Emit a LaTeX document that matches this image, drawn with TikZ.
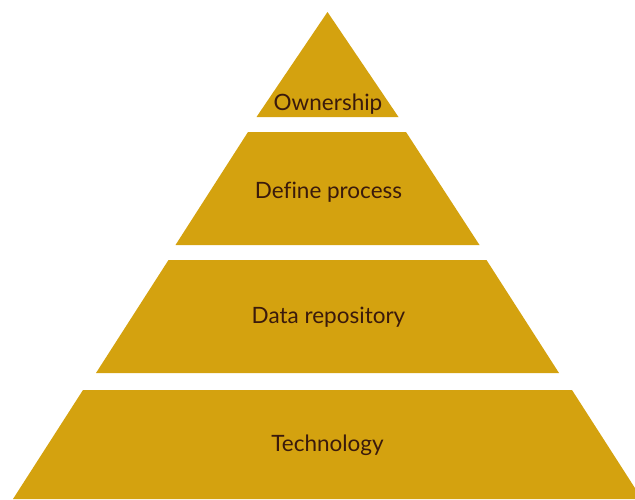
\documentclass[tikz,border=0pt]{standalone}
\usepackage{fontspec}
\setmainfont{Lato}[Ligatures=NoCommon]
\definecolor{pyrgold}{HTML}{D4A20F}
\definecolor{pyrtext}{HTML}{3A1A0C}
\begin{document}
\begin{tikzpicture}[x=1pt,y=-1pt,
        tier/.style={fill=pyrgold,draw=none},
        tiertext/.style={text=pyrtext,anchor=base,
            font=\fontsize{22.5}{27}\selectfont}]
    \useasboundingbox (0,0) rectangle (635,499);
    \clip (0,0) rectangle (635,499);

% layers, top to bottom
\fill[tier] (327.5,12) -- (398.5,117) -- (256.5,117) -- cycle;
\fill[tier] (248,132) -- (406,132) -- (479.5,245) -- (175.5,245) -- cycle;
\fill[tier] (168.5,260) -- (486.5,260) -- (559,373) -- (96,373) -- cycle;
\fill[tier] (83,390) -- (572,390) -- (642,499) -- (13,499) -- cycle;

\node[tiertext] (owner) at (328,110.7) {Ownership};
\node[tiertext] (process) at (328.5,198.3) {Define process};
\node[tiertext] (repo) at (328.5,323.7) {Data repository};
\node[tiertext] (tech) at (327.5,451.7) {Technology};
\end{tikzpicture}
\end{document}
